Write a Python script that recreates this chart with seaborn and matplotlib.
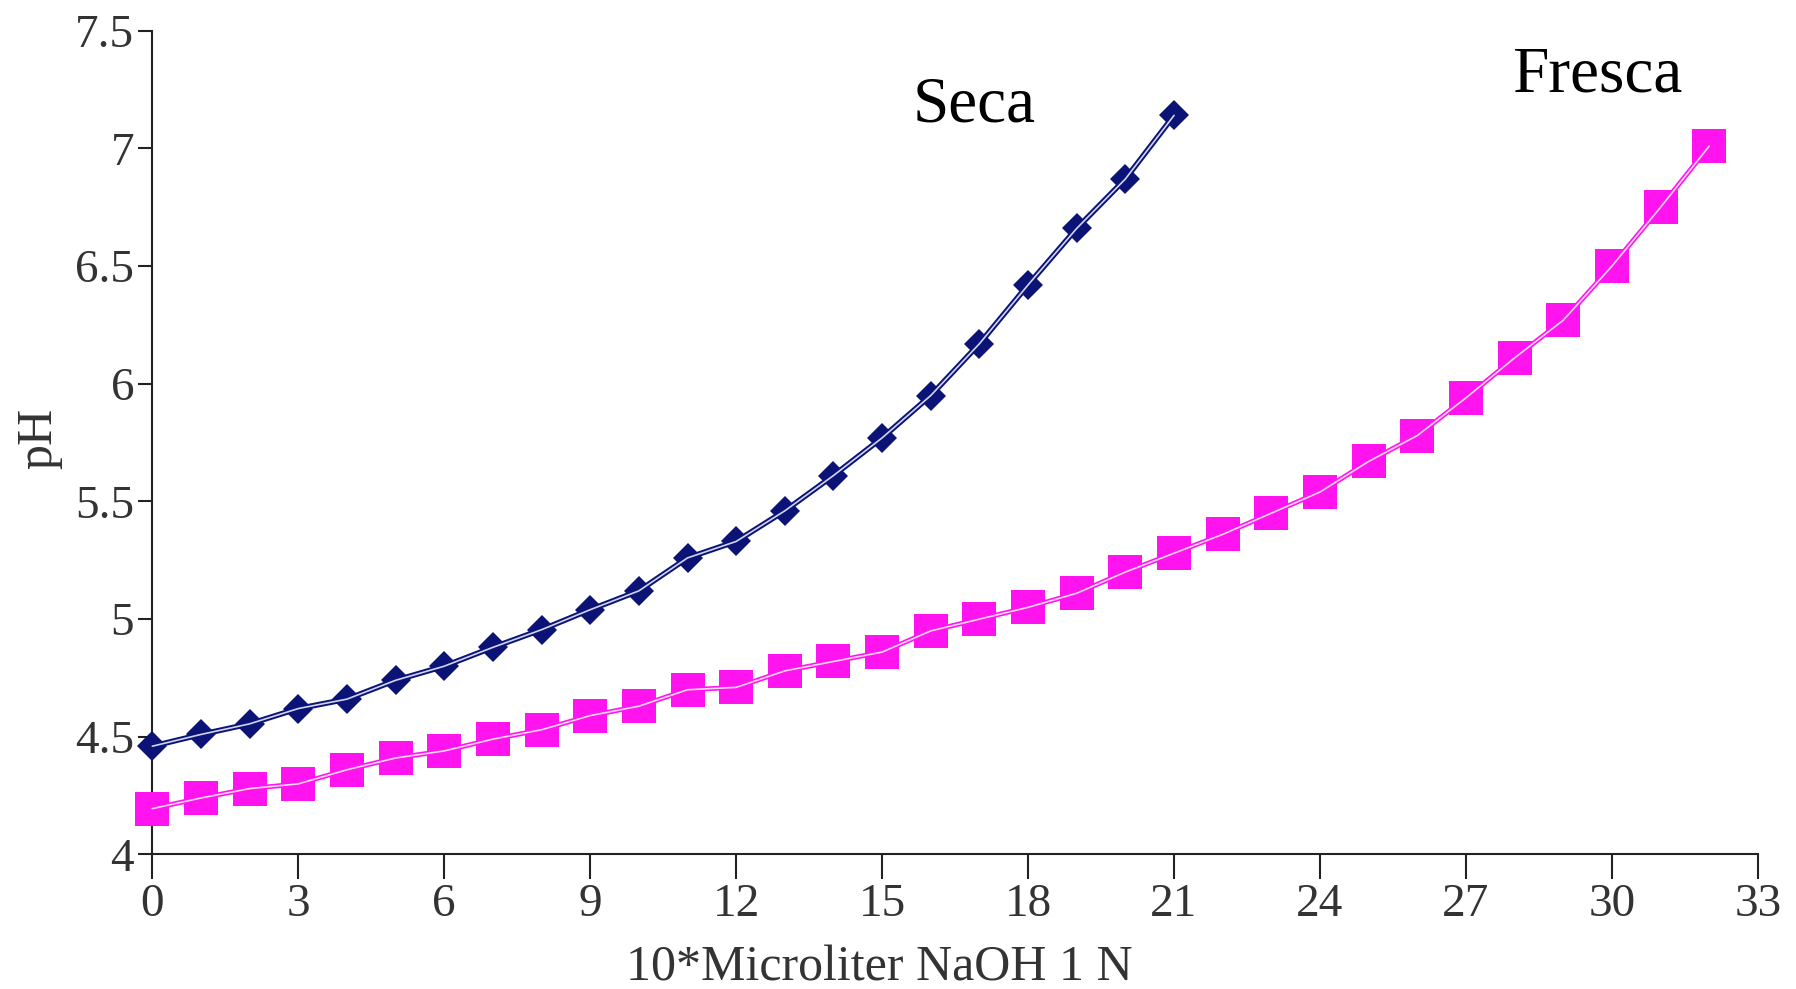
import matplotlib
matplotlib.use("Agg")
import matplotlib.pyplot as plt
import seaborn as sns
import pandas as pd

# ---- data ----
seca_x = list(range(0, 22))
seca_ph = [4.46, 4.51, 4.555, 4.62, 4.66, 4.74, 4.80, 4.88, 4.955, 5.04, 5.12,
           5.26, 5.33, 5.46, 5.61, 5.77, 5.95, 6.17, 6.42, 6.66, 6.87, 7.14]
fresca_x = list(range(0, 33))
fresca_ph = [4.195, 4.24, 4.28, 4.30, 4.36, 4.41, 4.44, 4.49, 4.53, 4.59, 4.63,
             4.70, 4.71, 4.78, 4.82, 4.86, 4.95, 5.00, 5.05, 5.11, 5.20, 5.28,
             5.36, 5.45, 5.54, 5.67, 5.78, 5.94, 6.11, 6.27, 6.50, 6.75, 7.01]
x_ticks = [0, 3, 6, 9, 12, 15, 18, 21, 24, 27, 30, 33]
y_ticks = [4, 4.5, 5, 5.5, 6, 6.5, 7, 7.5]
y_tick_labels = ["4", "4.5", "5", "5.5", "6", "6.5", "7", "7.5"]
x_label = "10*Microliter NaOH 1 N"
y_label = "pH"
label_seca = "Seca"
label_fresca = "Fresca"

seca_df = pd.DataFrame({"x": seca_x, "ph": seca_ph})
fresca_df = pd.DataFrame({"x": fresca_x, "ph": fresca_ph})

sns.set_style("ticks")
plt.rcParams["font.family"] = ["Liberation Serif", "DejaVu Serif"]

fig = plt.figure(figsize=(17.96, 9.89), dpi=100)
ax = fig.add_axes([0.0848, 0.136, 0.894, 0.833])

navy = "#0b1476"
magenta = "#ff14f0"

sns.lineplot(data=fresca_df, x="x", y="ph", ax=ax, color=magenta, lw=3.5,
             marker="s", markersize=24, markeredgewidth=0, zorder=3)
sns.lineplot(data=fresca_df, x="x", y="ph", ax=ax, color="#ffd6fb", lw=1.2, zorder=4)
sns.lineplot(data=seca_df, x="x", y="ph", ax=ax, color=navy, lw=4,
             marker="D", markersize=15, markeredgewidth=0, zorder=3)
sns.lineplot(data=seca_df, x="x", y="ph", ax=ax, color="#d0d4ee", lw=1.2, zorder=4)

ax.set_xlim(0, 33)
ax.set_ylim(4, 7.5)
ax.set_xticks(x_ticks)
ax.set_yticks(y_ticks)
ax.set_yticklabels(y_tick_labels)
for s in ["top", "right"]:
    ax.spines[s].set_visible(False)
for s in ["left", "bottom"]:
    ax.spines[s].set_linewidth(1.5)
    ax.spines[s].set_color("#222222")
    ax.spines[s].set_clip_on(False)
ax.tick_params(axis="x", length=18, width=1.5, colors="#222222", labelsize=34, pad=3, direction="out")
ax.tick_params(axis="y", length=10, width=1.5, colors="#222222", labelsize=34, pad=3, direction="out")
for lab in ax.get_xticklabels() + ax.get_yticklabels():
    lab.set_color("#333333")

ax.set_xlabel(x_label, fontsize=36, color="#333333")
ax.set_ylabel(y_label, fontsize=36, color="#333333")
ax.xaxis.set_label_coords(0.453, -0.11)
ax.yaxis.set_label_coords(-0.056, 0.505)

ax.text(16.9, 7.18, label_seca, fontsize=47, color="black", ha="center", va="center")
ax.text(29.7, 7.31, label_fresca, fontsize=47, color="black", ha="center", va="center")

ax.grid(False)
for l in ax.lines:
    l.set_clip_on(False)

fig.savefig("out.png", dpi=100)
